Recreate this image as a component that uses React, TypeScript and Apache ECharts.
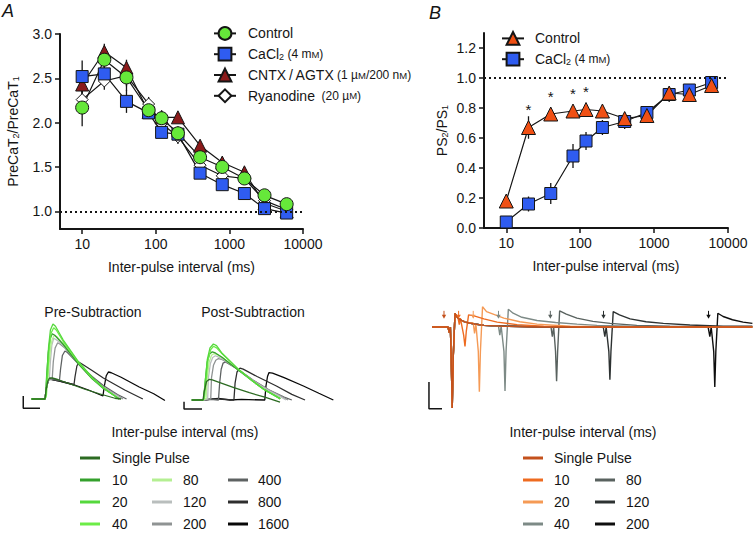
import React, { useEffect, useRef } from 'react';
import * as echarts from 'echarts';

const FONT = '"Liberation Sans", Arial, Helvetica, sans-serif';
const INK = '#151515';

// ---------------- Panel A : PreCaT2 / PreCaT1 ----------------
const intervalsA = [10, 20, 40, 80, 120, 200, 400, 800, 1600, 3000, 6000];
const controlA = [2.17, 2.71, 2.51, 2.14, 2.05, 1.88, 1.61, 1.5, 1.37, 1.18, 1.08];
const controlAErr = [0.21, 0.12, 0.15, 0.06, 0.09, 0.08, 0.05, 0.05, 0.04, 0.03, 0.03];
const cacl2A = [2.52, 2.55, 2.24, 2.11, 1.89, 1.87, 1.43, 1.3, 1.2, 1.03, 0.98];
const cacl2AErr = [0.18, 0.1, 0.13, 0.05, 0.05, 0.05, 0.05, 0.04, 0.03, 0.03, 0.02];
const cntxA = [2.43, 2.8, 2.62, 2.12, 2.06, 2.06, 1.74, 1.55, 1.44, 1.09, 1.0];
const cntxAErr = [0.14, 0.09, 0.09, 0.06, 0.05, 0.04, 0.04, 0.04, 0.04, 0.03, 0.02];
const ryanA = [2.26, 2.47, 2.53, 2.21, 1.99, 1.84, 1.52, 1.4, 1.37, 1.12, 1.02];
const ryanAErr = [0.12, 0.1, 0.12, 0.08, 0.06, 0.08, 0.04, 0.04, 0.03, 0.03, 0.03];
const xTicks = [10, 100, 1000, 10000];
const yTicksA = [1.0, 1.5, 2.0, 2.5, 3.0];

// ---------------- Panel B : PS2 / PS1 ----------------
const intervalsB = [10, 20, 40, 80, 120, 200, 400, 800, 1600, 3000, 6000];
const controlB = [0.18, 0.67, 0.76, 0.78, 0.79, 0.78, 0.73, 0.75, 0.9, 0.89, 0.95];
const controlBErr = [0.03, 0.075, 0.03, 0.03, 0.03, 0.03, 0.04, 0.03, 0.03, 0.03, 0.02];
const cacl2B = [0.04, 0.16, 0.23, 0.48, 0.58, 0.67, 0.71, 0.77, 0.89, 0.92, 0.97];
const cacl2BErr = [0.02, 0.05, 0.07, 0.08, 0.06, 0.05, 0.05, 0.03, 0.05, 0.03, 0.02];
const sigB = [20, 40, 80, 120];
const yTicksB = [0, 0.2, 0.4, 0.6, 0.8, 1.0, 1.2];

// ---------------- Calcium traces (time ms, normalised amplitude) ----------------
const preSingle = [[-370, 0], [0, 0], [30, 0.12], [80, 0.24], [130, 0.28], [200, 0.28], [350, 0.26], [700, 0.2], [1100, 0.13], [1500, 0.07], [1930, 0.01], [2100, 0]];
const pre10 = [[-370, 0], [0, 0], [15, 0.04], [45, 0.3], [90, 0.62], [140, 0.8], [200, 0.87], [270, 0.85], [500, 0.73], [920, 0.47], [1300, 0.27], [1610, 0.14], [1930, 0.04], [2050, 0]];
const pre20 = [[-370, 0], [0, 0], [20, 0.02], [50, 0.3], [100, 0.7], [150, 0.92], [220, 1.0], [290, 0.97], [500, 0.79], [920, 0.5], [1300, 0.29], [1610, 0.15], [1930, 0.04], [2050, 0]];
const pre40 = [[-370, 0], [0, 0], [40, 0.05], [70, 0.3], [120, 0.68], [170, 0.88], [240, 0.95], [310, 0.92], [500, 0.77], [920, 0.49], [1300, 0.28], [1610, 0.15], [1930, 0.04], [2050, 0]];
const pre80 = [[-370, 0], [0, 0], [40, 0.15], [80, 0.25], [110, 0.45], [160, 0.7], [200, 0.8], [260, 0.85], [330, 0.83], [500, 0.74], [920, 0.48], [1300, 0.28], [1610, 0.15], [1930, 0.04], [2050, 0]];
const pre120 = [[-370, 0], [0, 0], [40, 0.15], [80, 0.24], [120, 0.26], [150, 0.5], [190, 0.72], [240, 0.81], [310, 0.79], [500, 0.72], [920, 0.48], [1300, 0.28], [1610, 0.15], [2000, 0.04], [2100, 0]];
const pre200 = [[-370, 0], [0, 0], [40, 0.15], [80, 0.24], [200, 0.27], [230, 0.5], [280, 0.68], [350, 0.75], [420, 0.73], [550, 0.68], [920, 0.47], [1300, 0.28], [1610, 0.16], [2000, 0.05], [2150, 0]];
const pre400 = [[-370, 0], [0, 0], [40, 0.15], [100, 0.27], [400, 0.25], [430, 0.4], [480, 0.58], [550, 0.64], [620, 0.62], [920, 0.47], [1300, 0.3], [1610, 0.18], [2000, 0.06], [2250, 0]];
const pre800 = [[-370, 0], [0, 0], [40, 0.15], [100, 0.27], [400, 0.24], [800, 0.19], [830, 0.3], [880, 0.44], [940, 0.49], [1010, 0.47], [1300, 0.38], [1610, 0.28], [2200, 0.12], [2700, 0]];
const pre1600 = [[-370, 0], [0, 0], [40, 0.15], [100, 0.27], [400, 0.24], [800, 0.19], [1200, 0.12], [1600, 0.04], [1630, 0.15], [1690, 0.31], [1750, 0.36], [1830, 0.35], [2100, 0.29], [2600, 0.16], [3000, 0.07], [3310, -0.02]];

const postSingle = [[-290, 0], [0, 0], [30, 0.15], [90, 0.33], [164, 0.37], [240, 0.36], [400, 0.32], [800, 0.22], [1200, 0.13], [1600, 0.05], [1994, -0.04]];
const post10 = [[-290, 0], [0, 0], [15, 0.03], [60, 0.35], [110, 0.68], [170, 0.82], [240, 0.86], [320, 0.84], [500, 0.76], [900, 0.54], [1300, 0.33], [1600, 0.18], [1908, 0.06], [2000, 0.02]];
const post20 = [[-290, 0], [0, 0], [20, 0.02], [60, 0.35], [110, 0.72], [180, 0.93], [268, 1.0], [350, 0.97], [500, 0.83], [900, 0.56], [1300, 0.33], [1600, 0.18], [1908, 0.06], [2000, 0.03]];
const post40 = [[-290, 0], [0, 0], [40, 0.05], [80, 0.35], [130, 0.72], [200, 0.9], [270, 0.96], [350, 0.93], [500, 0.82], [900, 0.56], [1300, 0.33], [1600, 0.18], [1908, 0.06], [2000, 0.02]];
const post80 = [[-290, 0], [0, 0], [80, 0.03], [110, 0.4], [160, 0.68], [220, 0.8], [290, 0.83], [370, 0.81], [500, 0.76], [900, 0.55], [1300, 0.33], [1600, 0.18], [1908, 0.06], [2000, 0.02]];
const post120 = [[-290, 0], [0, 0], [120, 0.02], [140, 0.4], [190, 0.65], [250, 0.76], [320, 0.79], [420, 0.76], [600, 0.7], [900, 0.55], [1300, 0.34], [1700, 0.17], [2000, 0.06], [2150, 0]];
const post200 = [[-290, 0], [0, 0], [200, 0.02], [220, 0.4], [270, 0.62], [330, 0.71], [400, 0.74], [500, 0.72], [650, 0.66], [900, 0.55], [1300, 0.35], [1700, 0.18], [2050, 0.06], [2200, 0]];
const post400 = [[-290, 0], [0, 0], [200, 0.01], [400, 0], [430, 0.3], [470, 0.55], [520, 0.66], [580, 0.68], [660, 0.65], [900, 0.55], [1300, 0.35], [1700, 0.18], [2100, 0.05], [2300, 0]];
const post800 = [[-290, 0], [0, 0], [300, 0.02], [800, 0], [830, 0.3], [880, 0.5], [958, 0.57], [1040, 0.55], [1400, 0.42], [1900, 0.25], [2300, 0.1], [2642, 0]];
const post1600 = [[-290, 0], [0, 0], [400, 0.03], [700, 0], [1000, 0.01], [1600, 0], [1630, 0.25], [1670, 0.42], [1709, 0.49], [1800, 0.48], [2100, 0.4], [2600, 0.25], [3000, 0.12], [3375, 0]];

// ---------------- Field-potential traces (time ms, normalised to PS1) ----------------
const bFirst = [[-9, 0], [3, 0], [4, -0.07], [4.8, 0], [5.4, -0.35], [6.2, -1.0], [7, -0.35], [8.3, 0.17], [9.5, 0.13]];
const bFirstDecay = [[12, 0.09], [16, 0.06], [22, 0.04], [30, 0.02], [45, 0.01]];
const bSingle = [...bFirst, ...bFirstDecay, [70, 0], [232, 0]];
const b10 = [...bFirst, [10.5, 0.12], [11.5, 0.03], [12.3, 0.11], [14.8, -0.1], [15.8, -0.24], [16.8, -0.05], [18.5, 0.15], [22, 0.14], [30, 0.1], [40, 0.06], [55, 0.03], [75, 0.01], [100, 0], [232, 0]];
const b20 = [...bFirst, [12, 0.09], [16, 0.06], [21, 0.05], [22, 0.05], [23, -0.08], [24, 0.04], [25.8, -0.3], [26.6, -0.8], [27.4, -0.3], [29, 0.25], [32, 0.19], [40, 0.14], [45, 0.11], [57, 0.065], [70, 0.035], [95, 0.01], [130, 0], [232, 0]];
const b40 = [...bFirst, ...bFirstDecay.slice(0, 4), [40, 0.01], [41, 0.01], [42, -0.1], [43, 0.01], [45.1, -0.3], [45.9, -0.79], [46.7, -0.3], [48.4, 0.22], [52, 0.17], [58.6, 0.12], [70, 0.08], [84, 0.055], [100, 0.035], [115, 0.02], [140, 0.01], [170, 0], [232, 0]];
const b80 = [...bFirst, ...bFirstDecay, [80.5, 0], [81.5, -0.12], [82.5, 0], [83.9, -0.3], [84.7, -0.67], [85.5, -0.3], [87, 0.2], [92, 0.16], [100, 0.11], [112, 0.07], [125, 0.045], [145, 0.02], [170, 0.01], [200, 0], [232, 0]];
const b120 = [...bFirst, ...bFirstDecay, [80, 0], [119.8, 0], [121, -0.12], [122, 0], [124, -0.3], [124.8, -0.65], [125.6, -0.3], [127.3, 0.19], [132, 0.15], [140, 0.1], [152, 0.065], [165, 0.045], [185, 0.025], [210, 0.01], [232, 0.01]];
const b200 = [...bFirst, ...bFirstDecay, [80, 0], [198.7, 0], [200, -0.12], [201, 0], [202.9, -0.3], [203.7, -0.74], [204.5, -0.3], [206, 0.17], [210, 0.13], [217, 0.09], [225, 0.06], [232, 0.045]];
const bArrowT = [0, 11, 22, 41, 80, 120, 199];
const bArrowLevel = 0.15;

// scale bars (data units of each trace panel)
const preScale = [[-599, 0.04], [-599, -0.124], [-138, -0.124]];
const postScale = [[-492, -0.03], [-492, -0.16], [-26, -0.16]];
const bScale = [[-11.3, -0.68], [-11.3, -1.01], [-1.5, -1.01]];

// legends of the trace panels
const preLabels = ['Single Pulse', '10', '20', '40', '80', '120', '200', '400', '800', '1600'];
const preColors = ['#2c6b22', '#34a02c', '#55d83c', '#6cec47', '#b4ef92', '#b9bebd', '#8f9393', '#5e6262', '#2e2e2e', '#080808'];
const preTraces = [preSingle, pre10, pre20, pre40, pre80, pre120, pre200, pre400, pre800, pre1600];
const postTraces = [postSingle, post10, post20, post40, post80, post120, post200, post400, post800, post1600];
const bLabels = ['Single Pulse', '10', '20', '40', '80', '120', '200'];
const bColors = ['#c4511c', '#ee6b20', '#f59a55', '#7d8a86', '#59625f', '#2d3232', '#0e0e0e'];
const bTraces = [bSingle, b10, b20, b40, b80, b120, b200];

const pairs = (xs: number[], ys: number[]) => xs.map((x, i) => [x, ys[i]]);

const axisName = { fontSize: 14, color: INK, fontFamily: FONT };
const subRich = {
  m: { fontSize: 14, color: INK, fontFamily: FONT },
  s: { fontSize: 9, color: INK, fontFamily: FONT, verticalAlign: 'bottom', lineHeight: 10 },
  p: { fontSize: 12, color: INK, fontFamily: FONT },
  k: { fontSize: 9.5, color: INK, fontFamily: FONT },
  g: { width: 7 },
  h: { width: 6 },
};

const legendText: Record<string, string> = {
  Control: '{g|}{m|Control}',
  CaCl2: '{g|}{m|CaCl}{s|2}{p| (4 m}{k|M}{p|)}',
  CNTX: '{g|}{m|CNTX\u2009/\u2009AGTX}{p| (1 µ}{k|M}{p|/200 n}{k|M}{p|)}',
  Ryanodine: '{g|}{m|Ryanodine}{p|  (20 µ}{k|M}{p|)}',
  'Control ': '{h|}{m|Control}',
  'CaCl2 ': '{h|}{m|CaCl}{s|2}{p| (4 m}{k|M}{p|)}',
};

function logX(gridIndex: number) {
  return {
    gridIndex, type: 'log', logBase: 10, min: 5, max: 10000,
    name: 'Inter-pulse interval (ms)', nameLocation: 'middle', nameGap: 31, nameTextStyle: axisName,
    axisLine: { lineStyle: { color: INK, width: 2 } },
    axisTick: { length: 5, lineStyle: { color: INK, width: 1.5 }, customValues: xTicks },
    axisLabel: { customValues: xTicks, fontSize: 14, color: INK, fontFamily: FONT, margin: 8, formatter: (v: number) => String(Math.round(v)) },
    splitLine: { show: false }, minorTick: { show: false }, minorSplitLine: { show: false },
  };
}

function valY(gridIndex: number, min: number, max: number, ticks: number[], name: string, nameGap: number) {
  return {
    gridIndex, type: 'value', min, max,
    name, nameLocation: 'middle', nameGap, nameRotate: 90, nameTextStyle: { ...axisName, rich: subRich },
    axisLine: { show: true, lineStyle: { color: INK, width: 2 } },
    axisTick: { show: true, length: 5, lineStyle: { color: INK, width: 1.5 }, customValues: ticks },
    axisLabel: { customValues: ticks, fontSize: 14, color: INK, fontFamily: FONT, margin: 8, formatter: (v: number) => v.toFixed(1) },
    splitLine: { show: false },
  };
}

function errBars(name: string, axis: number, xs: number[], ys: number[], es: number[]) {
  return {
    type: 'custom', name, xAxisIndex: axis, yAxisIndex: axis, z: 1, silent: true,
    data: xs.map((x, i) => [x, ys[i], es[i]]),
    encode: { x: 0, y: 1 },
    renderItem: (_p: any, api: any) => {
      const x = api.value(0), y = api.value(1), e = api.value(2);
      const a = api.coord([x, y + e]);
      const b = api.coord([x, y - e]);
      return { type: 'line', shape: { x1: a[0], y1: a[1], x2: b[0], y2: b[1] }, style: { stroke: INK, lineWidth: 1.3 } };
    },
  };
}

function markerLine(name: string, axis: number, data: any[], symbol: string, size: number, fill: string, extra: any = {}) {
  return {
    type: 'line', name, xAxisIndex: axis, yAxisIndex: axis, data, z: 3,
    symbol, symbolSize: size, showAllSymbol: true,
    lineStyle: { color: INK, width: 1.2 },
    itemStyle: { color: fill, borderColor: INK, borderWidth: 1 },
    emphasis: { disabled: true },
    ...extra,
  };
}

const dotted = {
  silent: true, symbol: 'none', label: { show: false },
  lineStyle: { type: [2, 3], color: INK, width: 2 },
  data: [{ yAxis: 1 }],
};

function traceSeries(axis: number, data: number[][], color: string, width = 1.3) {
  return {
    type: 'line', xAxisIndex: axis, yAxisIndex: axis, data, showSymbol: false, symbol: 'none',
    silent: true, lineStyle: { color, width }, z: 2, emphasis: { disabled: true },
  };
}

function legendBlock(labels: string[], colors: string[], lineX: number[], textX: number[], rowY: number[]) {
  const els: any[] = [];
  labels.forEach((lab, i) => {
    const col = i === 0 ? 0 : Math.floor((i - 1) / 3);
    const row = i === 0 ? 0 : 1 + ((i - 1) % 3);
    const y = rowY[row];
    els.push({ type: 'line', shape: { x1: lineX[col], y1: y, x2: lineX[col] + 20, y2: y }, style: { stroke: colors[i], lineWidth: 3 } });
    els.push({ type: 'text', x: textX[col], y, style: { text: lab, fontSize: 14, fontFamily: FONT, fill: INK, verticalAlign: 'middle' } });
  });
  return els;
}

function buildOption() {
  const series: any[] = [];
  // Panel A
  series.push(errBars('eRyan', 0, intervalsA, ryanA, ryanAErr));
  series.push(errBars('eCntx', 0, intervalsA, cntxA, cntxAErr));
  series.push(errBars('eCacl', 0, intervalsA, cacl2A, cacl2AErr));
  series.push(errBars('eCtrl', 0, intervalsA, controlA, controlAErr));
  series.push(markerLine('Ryanodine', 0, pairs(intervalsA, ryanA), 'diamond', 12, '#ffffff'));
  series.push(markerLine('CNTX', 0, pairs(intervalsA, cntxA), 'triangle', 13, '#8b1a1a'));
  series.push(markerLine('CaCl2', 0, pairs(intervalsA, cacl2A), 'rect', 12, '#2f5cf0'));
  series.push(markerLine('Control', 0, pairs(intervalsA, controlA), 'circle', 13, '#66e83a', { markLine: dotted }));
  // Panel B
  series.push(errBars('eCaclB', 1, intervalsB, cacl2B, cacl2BErr));
  series.push(errBars('eCtrlB', 1, intervalsB, controlB, controlBErr));
  series.push(markerLine('CaCl2 ', 1, pairs(intervalsB, cacl2B), 'rect', 12, '#2f5cf0', { markLine: dotted }));
  const ctrlBData = intervalsB.map((x, i) => {
    const item: any = { value: [x, controlB[i]] };
    if (sigB.includes(x)) {
      item.label = { show: true, formatter: '*', position: 'top', distance: 3, fontSize: 15, color: INK, fontFamily: FONT };
    }
    return item;
  });
  series.push(markerLine('Control ', 1, ctrlBData, 'triangle', 14, '#f05014'));

  // Pre-subtraction traces (grid 2), post-subtraction (grid 3)
  const drawOrder = [9, 8, 7, 6, 5, 4, 1, 3, 2, 0];
  drawOrder.forEach((i) => series.push(traceSeries(2, preTraces[i], preColors[i])));
  drawOrder.forEach((i) => series.push(traceSeries(3, postTraces[i], preColors[i])));
  series.push(traceSeries(2, preScale, INK, 1.5));
  series.push(traceSeries(3, postScale, INK, 1.5));
  // B traces (grid 4)
  [6, 5, 4, 3, 2, 1, 0].forEach((i) => series.push(traceSeries(4, bTraces[i], bColors[i], 1.4)));
  series.push(traceSeries(4, bScale, INK, 1.5));
  series.push({
    type: 'custom', xAxisIndex: 4, yAxisIndex: 4, silent: true, z: 4,
    data: bArrowT.map((t) => [t, bArrowLevel]),
    encode: { x: 0, y: 1 },
    renderItem: (params: any, api: any) => {
      const p = api.coord([api.value(0), api.value(1)]);
      const c = bColors[params.dataIndex];
      return {
        type: 'group', children: [
          { type: 'line', shape: { x1: p[0], y1: p[1] - 4, x2: p[0], y2: p[1] + 1 }, style: { stroke: c, lineWidth: 1 } },
          { type: 'polygon', shape: { points: [[p[0] - 2.2, p[1]], [p[0] + 2.2, p[1]], [p[0], p[1] + 4]] }, style: { fill: c } },
        ],
      };
    },
  });

  const hidden = (gridIndex: number, min: number, max: number) => ({ gridIndex, type: 'value', min, max, show: false });

  return {
    animation: false,
    backgroundColor: '#ffffff',
    textStyle: { fontFamily: FONT },
    grid: [
      { left: 60, top: 34, width: 243, height: 195, outerBoundsMode: 'none' },
      { left: 484, top: 33, width: 244, height: 195, outerBoundsMode: 'none' },
      { left: 19.6, top: 320.25, width: 145, height: 90, outerBoundsMode: 'none' },
      { left: 176, top: 338.4, width: 158.3, height: 72.8, outerBoundsMode: 'none' },
      { left: 417.4, top: 302.7, width: 335, height: 117.5, outerBoundsMode: 'none' },
    ],
    xAxis: [logX(0), logX(1), hidden(2, -700, 3300), hidden(3, -700, 3400), hidden(4, -20, 232)],
    yAxis: [
      valY(0, 0.8, 3.0, yTicksA, '{m|PreCaT}{s|2}{m|/PreCaT}{s|1}', 40),
      valY(1, 0, 1.3, yTicksB, '{m|PS}{s|2}{m|/PS}{s|1}', 35),
      hidden(2, -0.15, 1.05), hidden(3, -0.2, 1.1), hidden(4, -1.15, 0.3),
    ],
    legend: [
      {
        data: ['Control', 'CaCl2', 'CNTX', 'Ryanodine'], orient: 'vertical', left: 213, top: 26, padding: 0,
        itemWidth: 22, itemHeight: 16, itemGap: 6, selectedMode: false,
        formatter: (n: string) => legendText[n], textStyle: { fontSize: 14, color: INK, fontFamily: FONT, rich: subRich },
      },
      {
        data: ['Control ', 'CaCl2 '], orient: 'vertical', left: 501, top: 31, padding: 0,
        itemWidth: 22, itemHeight: 16, itemGap: 6, selectedMode: false,
        formatter: (n: string) => legendText[n], textStyle: { fontSize: 14, color: INK, fontFamily: FONT, rich: subRich },
      },
    ],
    graphic: [
      { type: 'text', x: 2, y: 11, style: { text: 'A', font: `italic 18px ${FONT}`, fill: INK, verticalAlign: 'middle' } },
      { type: 'text', x: 429, y: 13, style: { text: 'B', font: `italic 18px ${FONT}`, fill: INK, verticalAlign: 'middle' } },
      { type: 'text', x: 93, y: 312, style: { text: 'Pre-Subtraction', fontSize: 14, fontFamily: FONT, fill: INK, align: 'center', verticalAlign: 'middle' } },
      { type: 'text', x: 253, y: 312, style: { text: 'Post-Subtraction', fontSize: 14, fontFamily: FONT, fill: INK, align: 'center', verticalAlign: 'middle' } },
      { type: 'text', x: 185, y: 432, style: { text: 'Inter-pulse interval (ms)', fontSize: 14, fontFamily: FONT, fill: INK, align: 'center', verticalAlign: 'middle' } },
      { type: 'text', x: 583, y: 432, style: { text: 'Inter-pulse interval (ms)', fontSize: 14, fontFamily: FONT, fill: INK, align: 'center', verticalAlign: 'middle' } },
      ...legendBlock(preLabels, preColors, [80, 152, 228], [112, 183, 258], [458, 480, 502, 524]),
      ...legendBlock(bLabels, bColors, [523, 595], [554, 626], [458, 480, 502, 524]),
    ],
    series,
  };
}

export default function App() {
  const ref = useRef<HTMLDivElement>(null);
  useEffect(() => {
    document.body.style.margin = '0';
    const chart = echarts.init(ref.current as HTMLDivElement, null, { renderer: 'svg' });
    chart.setOption(buildOption() as any);
    return () => chart.dispose();
  }, []);
  return <div ref={ref} style={{ width: 755, height: 534 }} />;
}
